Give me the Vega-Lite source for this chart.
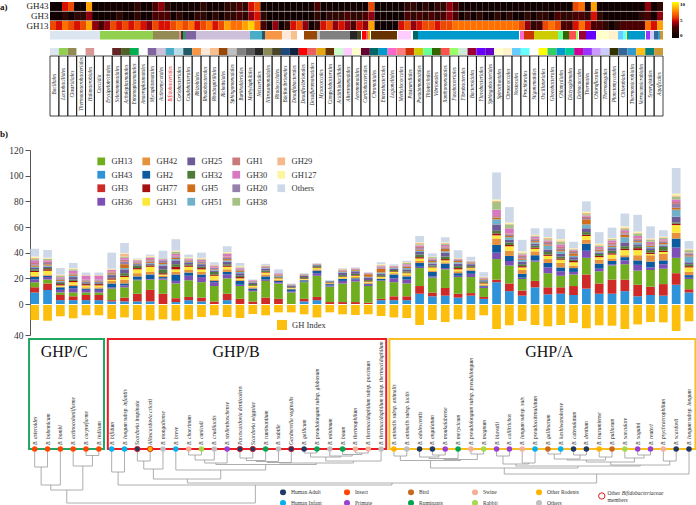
{"$schema":"https://vega.github.io/schema/vega-lite/v6.json","padding":0,"spacing":0,"bounds":"flush","background":"white",
"config":{"font":"Liberation Serif","view":{"stroke":null},"legend":{"labelFont":"Liberation Serif","titleFont":"Liberation Serif"},"axis":{"labelFont":"Liberation Serif"}},
"resolve":{"scale":{"color":"independent","x":"independent","y":"independent"},"legend":{"color":"independent"}},
"vconcat":[
{"width":696,"height":150,
"resolve":{"scale":{"x":"independent","y":"independent","color":"independent"},"legend":{"color":"independent"}},
"layer":[
{"data":{"values":[
{"c":0,"GH43":1,"GH3":1,"GH13":6},{"c":1,"GH43":0,"GH3":1,"GH13":5},{"c":2,"GH43":5,"GH3":2,"GH13":7},{"c":3,"GH43":6,"GH3":1,"GH13":6},{"c":4,"GH43":0,"GH3":2,"GH13":5},{"c":5,"GH43":0,"GH3":2,"GH13":6},{"c":6,"GH43":8,"GH3":4,"GH13":8},{"c":7,"GH43":0,"GH3":1,"GH13":4},{"c":8,"GH43":0,"GH3":0,"GH13":3},{"c":9,"GH43":1,"GH3":1,"GH13":4},
{"c":10,"GH43":1,"GH3":1,"GH13":6},{"c":11,"GH43":1,"GH3":2,"GH13":5},{"c":12,"GH43":0,"GH3":1,"GH13":6},{"c":13,"GH43":1,"GH3":1,"GH13":5},{"c":14,"GH43":2,"GH3":2,"GH13":6},{"c":15,"GH43":1,"GH3":1,"GH13":5},{"c":16,"GH43":1,"GH3":1,"GH13":4},{"c":17,"GH43":3,"GH3":3,"GH13":6},{"c":18,"GH43":4,"GH3":3,"GH13":5},{"c":19,"GH43":2,"GH3":3,"GH13":5},
{"c":20,"GH43":1,"GH3":1,"GH13":6},{"c":21,"GH43":1,"GH3":2,"GH13":7},{"c":22,"GH43":0,"GH3":1,"GH13":6},{"c":23,"GH43":1,"GH3":1,"GH13":7},{"c":24,"GH43":1,"GH3":2,"GH13":5},{"c":25,"GH43":2,"GH3":2,"GH13":6},{"c":26,"GH43":1,"GH3":1,"GH13":7},{"c":27,"GH43":1,"GH3":2,"GH13":5},{"c":28,"GH43":1,"GH3":1,"GH13":6},{"c":29,"GH43":2,"GH3":2,"GH13":8},
{"c":30,"GH43":2,"GH3":2,"GH13":7},{"c":31,"GH43":3,"GH3":3,"GH13":7},{"c":32,"GH43":2,"GH3":2,"GH13":8},{"c":33,"GH43":5,"GH3":4,"GH13":9},{"c":34,"GH43":6,"GH3":5,"GH13":7},{"c":35,"GH43":1,"GH3":2,"GH13":3},{"c":36,"GH43":0,"GH3":0,"GH13":1},{"c":37,"GH43":0,"GH3":1,"GH13":4},{"c":38,"GH43":0,"GH3":0,"GH13":1},{"c":39,"GH43":0,"GH3":1,"GH13":2},
{"c":40,"GH43":0,"GH3":0,"GH13":5},{"c":41,"GH43":0,"GH3":1,"GH13":6},{"c":42,"GH43":0,"GH3":0,"GH13":4},{"c":43,"GH43":0,"GH3":1,"GH13":1},{"c":44,"GH43":3,"GH3":2,"GH13":2},{"c":45,"GH43":0,"GH3":1,"GH13":5},{"c":46,"GH43":1,"GH3":2,"GH13":6},{"c":47,"GH43":0,"GH3":2,"GH13":4},{"c":48,"GH43":0,"GH3":2,"GH13":5},{"c":49,"GH43":1,"GH3":3,"GH13":4},
{"c":50,"GH43":1,"GH3":2,"GH13":3},{"c":51,"GH43":0,"GH3":2,"GH13":5},{"c":52,"GH43":1,"GH3":3,"GH13":4},{"c":53,"GH43":6,"GH3":4,"GH13":8},{"c":54,"GH43":0,"GH3":0,"GH13":1},{"c":55,"GH43":0,"GH3":1,"GH13":0},{"c":56,"GH43":0,"GH3":0,"GH13":0},{"c":57,"GH43":0,"GH3":0,"GH13":1},{"c":58,"GH43":1,"GH3":1,"GH13":5},{"c":59,"GH43":2,"GH3":3,"GH13":6},
{"c":60,"GH43":2,"GH3":2,"GH13":4},{"c":61,"GH43":1,"GH3":3,"GH13":5},{"c":62,"GH43":2,"GH3":2,"GH13":6},{"c":63,"GH43":1,"GH3":3,"GH13":6},{"c":64,"GH43":2,"GH3":2,"GH13":5},{"c":65,"GH43":2,"GH3":3,"GH13":6},{"c":66,"GH43":4,"GH3":4,"GH13":6},{"c":67,"GH43":3,"GH3":3,"GH13":7},{"c":68,"GH43":1,"GH3":1,"GH13":7},{"c":69,"GH43":0,"GH3":2,"GH13":7},
{"c":70,"GH43":1,"GH3":1,"GH13":7},{"c":71,"GH43":0,"GH3":2,"GH13":7},{"c":72,"GH43":1,"GH3":1,"GH13":7},{"c":73,"GH43":0,"GH3":1,"GH13":7},{"c":74,"GH43":1,"GH3":2,"GH13":7},{"c":75,"GH43":0,"GH3":1,"GH13":7},{"c":76,"GH43":0,"GH3":2,"GH13":7},{"c":77,"GH43":1,"GH3":1,"GH13":7},{"c":78,"GH43":1,"GH3":1,"GH13":6},{"c":79,"GH43":1,"GH3":2,"GH13":4},
{"c":80,"GH43":0,"GH3":1,"GH13":2},{"c":81,"GH43":0,"GH3":2,"GH13":3},{"c":82,"GH43":1,"GH3":2,"GH13":6},{"c":83,"GH43":0,"GH3":1,"GH13":7},{"c":84,"GH43":1,"GH3":3,"GH13":6},{"c":85,"GH43":1,"GH3":2,"GH13":3},{"c":86,"GH43":0,"GH3":2,"GH13":3},{"c":87,"GH43":6,"GH3":3,"GH13":5},{"c":88,"GH43":7,"GH3":3,"GH13":7},{"c":89,"GH43":1,"GH3":2,"GH13":5},
{"c":90,"GH43":8,"GH3":5,"GH13":3},{"c":91,"GH43":0,"GH3":2,"GH13":3},{"c":92,"GH43":0,"GH3":1,"GH13":2},{"c":93,"GH43":0,"GH3":1,"GH13":1},{"c":94,"GH43":0,"GH3":1,"GH13":2},{"c":95,"GH43":0,"GH3":1,"GH13":3},{"c":96,"GH43":0,"GH3":1,"GH13":3},{"c":97,"GH43":1,"GH3":1,"GH13":3},{"c":98,"GH43":1,"GH3":2,"GH13":3},{"c":99,"GH43":4,"GH3":3,"GH13":7},{"c":100,"GH43":1,"GH3":1,"GH13":5},{"c":101,"GH43":2,"GH3":4,"GH13":8}
]},
"transform":[{"fold":["GH43","GH3","GH13"],"as":["family","count"]}],
"mark":{"type":"rect"},
"encoding":{
"x":{"field":"c","type":"ordinal","axis":null,"scale":{"range":[50,663],"paddingInner":0,"paddingOuter":0}},
"y":{"field":"family","type":"nominal","title":null,"sort":["GH43","GH3","GH13"],"scale":{"domain":["GH43","GH3","GH13"],"range":[2,30],"paddingInner":0.06,"paddingOuter":0},"axis":{"offset":-49,"domain":false,"ticks":false,"labelPadding":1,"labelFontSize":9,"labelColor":"#222"}},
"color":{"field":"count","type":"quantitative","scale":{"domain":[0,1,3,5,7,10],"range":["#000000","#120000","#4a0000","#d81000","#ff7000","#ffff00"]},"legend":{"orient":"none","legendX":672,"legendY":2,"title":null,"gradientLength":36,"gradientThickness":7,"values":[0,5,10],"labelFontSize":5,"labelFontWeight":"bold","labelOffset":1,"gradientStrokeWidth":0}}
}},
{"resolve":{"scale":{"x":"independent","y":"independent"}},
"layer":[
{"data":{"values":[{"order":"Bacillales","start":0,"end":50},{"order":"Lactobacillales","start":50,"end":103},{"order":"Clostridiales","start":103,"end":129},{"order":"Halanaerobiales","start":129,"end":131},{"order":"Selenomonadales","start":131,"end":133},{"order":"Entomoplasmatales","start":133,"end":135},{"order":"Mycoplasmatales","start":135,"end":146},{"order":"Actinomycetales","start":146,"end":200},{"order":"Bifidobacteriales","start":200,"end":212},{"order":"Caulobacterales","start":212,"end":215},{"order":"Rhizobiales","start":215,"end":232},{"order":"Rhodobacterales","start":232,"end":241},{"order":"Rhodospirillales","start":241,"end":247},{"order":"Rickettsiales","start":254,"end":267},{"order":"Sphingomonadales","start":267,"end":270},{"order":"Burkholderiales","start":270,"end":300},{"order":"Neisseriales","start":300,"end":307},{"order":"Rhodocyclales","start":307,"end":311},{"order":"Desulfovibrionales","start":312,"end":316},{"order":"Desulfuromonadales","start":316,"end":318},{"order":"Myxococcales","start":318,"end":320},{"order":"Campylobacterales","start":321,"end":347},{"order":"Alteromonadales","start":348,"end":361},{"order":"Chromatiales","start":363,"end":368},{"order":"Enterobacteriales","start":368,"end":469},{"order":"Legionellales","start":470,"end":474},{"order":"Pasteurellales","start":474,"end":484},{"order":"Pseudomonadales","start":484,"end":508},{"order":"Thiotrichales","start":508,"end":513},{"order":"Vibrionales","start":513,"end":519},{"order":"Xanthomonadales","start":519,"end":526},{"order":"Fusobacteriales","start":526,"end":528},{"order":"Bacteroidales","start":529,"end":536},{"order":"Flavobacteriales","start":536,"end":546},{"order":"Spirochaetales","start":546,"end":559},{"order":"Chroococcales","start":559,"end":568},{"order":"Nostocales","start":568,"end":573},{"order":"Prochlorales","start":573,"end":576},{"order":"Oscillatoriales","start":576,"end":577},{"order":"Chlamydiales","start":577,"end":595},{"order":"Thermales","start":596,"end":600},{"order":"Thermotogales","start":600,"end":604},{"order":"Chlorobiales","start":604,"end":608},{"order":"Thermomicrobiales","start":608,"end":610},{"order":"Aquificales","start":610,"end":613}]},
"mark":"rect","encoding":{"x":{"field":"start","type":"quantitative","axis":null,"scale":{"domain":[0,613],"range":[50,663]}},"x2":{"field":"end"},"y":{"datum":31,"type":"quantitative","axis":null,"scale":{"domain":[0,150],"range":[0,150]}},"y2":{"datum":39.5},"color":{"field":"order","type":"nominal","legend":null}}},
{"data":{"values":[{"order":"Bacillales"},{"order":"Lactobacillales"},{"order":"Clostridiales"},{"order":"Thermoanaerobacteriales"},{"order":"Halanaerobiales"},{"order":"Coccidia"},{"order":"Erysipelotrichales"},{"order":"Selenomonadales"},{"order":"Acholeplasmatales"},{"order":"Entomoplasmatales"},{"order":"Anaeroplasmatales"},{"order":"Mycoplasmatales"},{"order":"Actinomycetales"},{"order":"Bifidobacteriales"},{"order":"Coriobacteriales"},{"order":"Caulobacterales"},{"order":"Rhizobiales"},{"order":"Rhodobacterales"},{"order":"Rhodospirillales"},{"order":"Rickettsiales"},{"order":"Sphingomonadales"},{"order":"Burkholderiales"},{"order":"Methylophilales"},{"order":"Neisseriales"},{"order":"Nitrosomonadales"},{"order":"Rhodocyclales"},{"order":"Bdellovibrionales"},{"order":"Desulfobacterales"},{"order":"Desulfovibrionales"},{"order":"Desulfuromonadales"},{"order":"Myxococcales"},{"order":"Campylobacterales"},{"order":"Acidithiobacillales"},{"order":"Alteromonadales"},{"order":"Aeromonadales"},{"order":"Cardiobacteriales"},{"order":"Chromatiales"},{"order":"Enterobacteriales"},{"order":"Legionellales"},{"order":"Methylococcales"},{"order":"Pasteurellales"},{"order":"Pseudomonadales"},{"order":"Thiotrichales"},{"order":"Vibrionales"},{"order":"Xanthomonadales"},{"order":"Fusobacteriales"},{"order":"Fibrobacterales"},{"order":"Bacteroidales"},{"order":"Flavobacteriales"},{"order":"Sphingobacteriales"},{"order":"Spirochaetales"},{"order":"Chroococcales"},{"order":"Nostocales"},{"order":"Prochlorales"},{"order":"Stigonematales"},{"order":"Oscillatoriales"},{"order":"Gloeobacterales"},{"order":"Chlamydiales"},{"order":"Dictyoglomales"},{"order":"Deinococcales"},{"order":"Thermales"},{"order":"Chloroflexales"},{"order":"Thermotogales"},{"order":"Planctomycetales"},{"order":"Chlorobiales"},{"order":"Thermomicrobiales"},{"order":"Verrucomicrobiales"},{"order":"Synergistales"},{"order":"Aquificales"}]},
"layer":[
{"mark":"rect","encoding":{"x":{"field":"order","type":"nominal","sort":null,"axis":null,"scale":{"range":[50,663],"paddingInner":0,"paddingOuter":0}},"y":{"datum":48,"type":"quantitative","axis":null,"scale":{"domain":[0,150],"range":[0,150]}},"y2":{"datum":55},
"color":{"field":"order","type":"nominal","legend":null,"scale":{"domain":["Bacillales","Lactobacillales","Clostridiales","Thermoanaerobacteriales","Halanaerobiales","Coccidia","Erysipelotrichales","Selenomonadales","Acholeplasmatales","Entomoplasmatales","Anaeroplasmatales","Mycoplasmatales","Actinomycetales","Bifidobacteriales","Coriobacteriales","Caulobacterales","Rhizobiales","Rhodobacterales","Rhodospirillales","Rickettsiales","Sphingomonadales","Burkholderiales","Methylophilales","Neisseriales","Nitrosomonadales","Rhodocyclales","Bdellovibrionales","Desulfobacterales","Desulfovibrionales","Desulfuromonadales","Myxococcales","Campylobacterales","Acidithiobacillales","Alteromonadales","Aeromonadales","Cardiobacteriales","Chromatiales","Enterobacteriales","Legionellales","Methylococcales","Pasteurellales","Pseudomonadales","Thiotrichales","Vibrionales","Xanthomonadales","Fusobacteriales","Fibrobacterales","Bacteroidales","Flavobacteriales","Sphingobacteriales","Spirochaetales","Chroococcales","Nostocales","Prochlorales","Stigonematales","Oscillatoriales","Gloeobacterales","Chlamydiales","Dictyoglomales","Deinococcales","Thermales","Chloroflexales","Thermotogales","Planctomycetales","Chlorobiales","Thermomicrobiales","Verrucomicrobiales","Synergistales","Aquificales"],
"range":["#dce6f1","#92d050","#948a54","#ffffff","#da9694","#ffffff","#ffffff","#632523","#4f6228","#00b050","#ffffff","#8064a2","#ccc0da","#4bacc6","#b7dee8","#215967","#f79646","#fde9d9","#fabf8f","#974706","#bfbfbf","#808080","#595959","#262626","#8e8a55","#494529","#1f497d","#0f243e","#ff0000","#e96060","#e6a80c","#663300","#ccffcc","#ffccff","#ffffcc","#660033","#006666","#0099cc","#ff66cc","#ff7c80","#cc3300","#cccc00","#66ff99","#336600","#ff5050","#99ff66","#ccecda","#990033","#6600ff","#6600cc","#ffffcc","#fff2cc","#66ccff","#66ffff","#ffffff","#ffff00","#33cc66","#0099cc","#00cc99","#cc0099","#9933ff","#cc99ff","#ccccff","#333300","#336699","#3399cc","#ffc013","#008080","#cc9933"]}}}},
{"mark":{"type":"rect","fill":null,"fillOpacity":0,"stroke":"#111","strokeWidth":0.8},"encoding":{"x":{"field":"order","type":"nominal","sort":null,"axis":null,"scale":{"range":[50,663],"paddingInner":0,"paddingOuter":0}},"y":{"datum":56,"type":"quantitative","axis":null,"scale":{"domain":[0,150],"range":[0,150]}},"y2":{"datum":116}}},
{"mark":{"type":"text","angle":-90,"fontStyle":"italic","fontSize":5.2,"align":"center","baseline":"middle"},"encoding":{"x":{"field":"order","type":"nominal","sort":null,"axis":null,"scale":{"range":[50,663],"paddingInner":0,"paddingOuter":0}},"y":{"datum":84,"type":"quantitative","axis":null,"scale":{"domain":[0,150],"range":[0,150]}},"text":{"field":"order"},"color":{"condition":{"test":"datum.order==='Bifidobacteriales'","value":"#e31a1c"},"value":"#222"}}}
]}
]},
{"mark":{"type":"rule","stroke":"#4bacc6","strokeWidth":1},"encoding":{"x":{"datum":206,"type":"quantitative","axis":null,"scale":{"domain":[0,613],"range":[50,663]}},"y":{"datum":40.5,"type":"quantitative","axis":null,"scale":{"domain":[0,150],"range":[0,150]}},"y2":{"datum":44}}},
{"mark":{"type":"rule","stroke":"#4bacc6","strokeWidth":1},"encoding":{"x":{"datum":120,"type":"quantitative","axis":null,"scale":{"domain":[0,613],"range":[50,663]}},"x2":{"datum":206},"y":{"datum":44,"type":"quantitative","axis":null,"scale":{"domain":[0,150],"range":[0,150]}}}},
{"mark":{"type":"rule","stroke":"#4bacc6","strokeWidth":1},"encoding":{"x":{"datum":120,"type":"quantitative","axis":null,"scale":{"domain":[0,613],"range":[50,663]}},"y":{"datum":44,"type":"quantitative","axis":null,"scale":{"domain":[0,150],"range":[0,150]}},"y2":{"datum":48}}},
{"mark":{"type":"rect","fill":"#4bacc6","fillOpacity":0.22,"stroke":"#2f86d2","strokeWidth":1.5},"encoding":{"x":{"datum":200,"type":"quantitative","axis":null,"scale":{"domain":[0,613],"range":[50,663]}},"x2":{"datum":212},"y":{"datum":1,"type":"quantitative","axis":null,"scale":{"domain":[0,150],"range":[0,150]}},"y2":{"datum":41}}},
{"data":{"values":[{"label":"a)","pos":-50,"line":6.5},{"label":"b)","pos":-50,"line":134}]},"mark":{"type":"text","align":"left","baseline":"middle","fontWeight":"bold","fontSize":9},"encoding":{"x":{"field":"pos","type":"quantitative","axis":null,"scale":{"domain":[0,613],"range":[50,663]}},"y":{"field":"line","type":"quantitative","axis":null,"scale":{"domain":[0,150],"range":[0,150]}},"text":{"field":"label"},"color":{"value":"#111"}}}
]},
{"width":696,"height":154,
"data":{"values":[
{"i":0,"GH43":9,"GH3":4,"GH13":4,"GH36":2,"GH2":2,"GH42":1,"GH31":3,"GH77":1,"GH32":1,"GH25":1,"GH51":1,"GH5":1,"GH20":1,"GH1":1,"GH30":2,"GH38":1,"GH29":1,"GH127":1,"Others":6},
{"i":1,"GH43":11,"GH3":5,"GH13":3,"GH36":2,"GH2":1,"GH42":1,"GH31":3,"GH77":1,"GH32":1,"GH25":1,"GH51":1,"GH5":1,"GH20":1,"GH1":1,"GH30":1,"GH38":1,"GH29":0.5,"GH127":0.5,"Others":6},
{"i":2,"GH43":3,"GH3":4,"GH13":2,"GH36":2,"GH2":2,"GH42":0.5,"GH31":1,"GH77":1,"GH32":1,"GH25":1,"GH51":0.5,"GH5":1,"GH20":1,"GH1":0.5,"GH30":0.5,"GH38":1,"GH29":0.5,"GH127":0.5,"Others":5},
{"i":3,"GH43":3,"GH3":3,"GH13":3,"GH36":3,"GH2":2,"GH42":1,"GH31":2,"GH77":1,"GH32":1,"GH25":2,"GH51":1,"GH5":1,"GH20":0.5,"GH1":0.5,"GH30":2,"GH38":1,"GH29":0.5,"GH127":0.5,"Others":4},
{"i":4,"GH43":3,"GH3":4,"GH13":2,"GH36":2,"GH2":1,"GH42":1,"GH31":1.5,"GH77":1,"GH32":0.5,"GH25":1,"GH51":0.5,"GH5":0.5,"GH20":0.5,"GH1":0.5,"GH30":3,"GH38":0,"GH29":0.5,"GH127":0,"Others":2},
{"i":5,"GH43":3,"GH3":4,"GH13":2,"GH36":2,"GH2":1,"GH42":1,"GH31":1.5,"GH77":1,"GH32":0.5,"GH25":1,"GH51":0.5,"GH5":0.5,"GH20":0.5,"GH1":0.5,"GH30":3,"GH38":0,"GH29":0.5,"GH127":0,"Others":2},
{"i":6,"GH43":2,"GH3":1,"GH13":9,"GH36":1,"GH2":3,"GH42":2,"GH31":1,"GH77":1,"GH32":0.5,"GH25":2,"GH51":0.5,"GH5":1,"GH20":0.5,"GH1":1,"GH30":1,"GH38":0,"GH29":0.5,"GH127":0.5,"Others":12.5},
{"i":7,"GH43":2,"GH3":3,"GH13":8,"GH36":1.5,"GH2":1.5,"GH42":3,"GH31":2,"GH77":1,"GH32":2,"GH25":3,"GH51":1,"GH5":3,"GH20":2,"GH1":1.5,"GH30":1.5,"GH38":1,"GH29":2,"GH127":0.5,"Others":8},
{"i":8,"GH43":2,"GH3":6,"GH13":10.5,"GH36":0.5,"GH2":2.5,"GH42":2.5,"GH31":3,"GH77":1,"GH32":2,"GH25":1,"GH51":0.5,"GH5":0.5,"GH20":0.5,"GH1":0.5,"GH30":1,"GH38":0.5,"GH29":0,"GH127":0.5,"Others":0.5},
{"i":9,"GH43":2,"GH3":9,"GH13":8,"GH36":0.5,"GH2":3.5,"GH42":2,"GH31":4,"GH77":1,"GH32":0.5,"GH25":1,"GH51":0.5,"GH5":1,"GH20":1,"GH1":1,"GH30":1,"GH38":0.5,"GH29":0.5,"GH127":0.5,"Others":1},
{"i":10,"GH43":0,"GH3":8,"GH13":11,"GH36":1,"GH2":1,"GH42":1,"GH31":1,"GH77":1,"GH32":3,"GH25":3,"GH51":1,"GH5":1,"GH20":2,"GH1":0.5,"GH30":0.5,"GH38":0.5,"GH29":0,"GH127":0,"Others":6},
{"i":11,"GH43":1.5,"GH3":3,"GH13":11.5,"GH36":2,"GH2":5,"GH42":2,"GH31":2,"GH77":2,"GH32":2,"GH25":3,"GH51":1,"GH5":1,"GH20":1,"GH1":0.5,"GH30":1.5,"GH38":1.5,"GH29":0.5,"GH127":0.5,"Others":9},
{"i":12,"GH43":3,"GH3":2.5,"GH13":13,"GH36":3.5,"GH2":2.5,"GH42":2,"GH31":2.5,"GH77":1,"GH32":1,"GH25":1.5,"GH51":0.5,"GH5":0.5,"GH20":0.5,"GH1":0.5,"GH30":0.5,"GH38":0.5,"GH29":0.5,"GH127":0.5,"Others":2},
{"i":13,"GH43":2,"GH3":3,"GH13":12,"GH36":4,"GH2":2,"GH42":2,"GH31":2,"GH77":1,"GH32":1,"GH25":2,"GH51":0.5,"GH5":0.5,"GH20":1,"GH1":0.5,"GH30":1,"GH38":0.5,"GH29":0.5,"GH127":0.5,"Others":4},
{"i":14,"GH43":0,"GH3":2,"GH13":12,"GH36":3,"GH2":1,"GH42":1,"GH31":3,"GH77":1,"GH32":2,"GH25":1,"GH51":0.5,"GH5":0.5,"GH20":1,"GH1":0.5,"GH30":1,"GH38":0.5,"GH29":0.5,"GH127":0,"Others":2},
{"i":15,"GH43":3,"GH3":5,"GH13":12,"GH36":3,"GH2":2,"GH42":2,"GH31":2,"GH77":1,"GH32":1,"GH25":2,"GH51":1,"GH5":1,"GH20":1,"GH1":1,"GH30":2,"GH38":0.5,"GH29":0.5,"GH127":0.5,"Others":4.5},
{"i":16,"GH43":0,"GH3":4,"GH13":10,"GH36":1,"GH2":3,"GH42":1,"GH31":1,"GH77":1,"GH32":1,"GH25":2,"GH51":1,"GH5":1,"GH20":1,"GH1":0.5,"GH30":0.5,"GH38":0.5,"GH29":0.5,"GH127":0.5,"Others":2.5},
{"i":17,"GH43":0,"GH3":2,"GH13":8,"GH36":1,"GH2":1,"GH42":1,"GH31":1,"GH77":0.5,"GH32":1,"GH25":1,"GH51":0.5,"GH5":0.5,"GH20":0.5,"GH1":0,"GH30":0.5,"GH38":0,"GH29":0,"GH127":0,"Others":0.5},
{"i":18,"GH43":0,"GH3":5,"GH13":13,"GH36":1,"GH2":2.5,"GH42":1.5,"GH31":1.5,"GH77":0.5,"GH32":1,"GH25":1.5,"GH51":0.5,"GH5":0.5,"GH20":0.5,"GH1":0.3,"GH30":0.3,"GH38":0.3,"GH29":0.2,"GH127":0.2,"Others":1},
{"i":19,"GH43":0,"GH3":4,"GH13":12,"GH36":1,"GH2":1,"GH42":1,"GH31":1,"GH77":0.5,"GH32":0.5,"GH25":0.5,"GH51":0.5,"GH5":0.5,"GH20":0.5,"GH1":0.5,"GH30":0.5,"GH38":0,"GH29":0,"GH127":0,"Others":3},
{"i":20,"GH43":0,"GH3":0,"GH13":9,"GH36":1,"GH2":1.5,"GH42":0.5,"GH31":0.5,"GH77":0.3,"GH32":0.5,"GH25":1,"GH51":0.3,"GH5":0.3,"GH20":0.3,"GH1":0.2,"GH30":0,"GH38":0,"GH29":0,"GH127":0,"Others":0.5},
{"i":21,"GH43":2,"GH3":2,"GH13":13,"GH36":0.5,"GH2":1,"GH42":0.5,"GH31":0.5,"GH77":0.5,"GH32":1,"GH25":1,"GH51":0.3,"GH5":0.3,"GH20":0.3,"GH1":0.2,"GH30":0.2,"GH38":0.2,"GH29":0,"GH127":0,"Others":0.4},
{"i":22,"GH43":3,"GH3":2.5,"GH13":16.5,"GH36":2,"GH2":2,"GH42":1,"GH31":1,"GH77":0.5,"GH32":1,"GH25":0.7,"GH51":0.3,"GH5":0.2,"GH20":0.2,"GH1":0.2,"GH30":0.2,"GH38":0,"GH29":0,"GH127":0,"Others":0.5},
{"i":23,"GH43":0,"GH3":1.5,"GH13":12,"GH36":1,"GH2":1,"GH42":0.7,"GH31":0.3,"GH77":0.3,"GH32":0.5,"GH25":0.5,"GH51":0.3,"GH5":0,"GH20":0,"GH1":0,"GH30":0,"GH38":0,"GH29":0,"GH127":0,"Others":0.5},
{"i":24,"GH43":0,"GH3":1.5,"GH13":14.5,"GH36":2,"GH2":1.5,"GH42":0.5,"GH31":1,"GH77":0.5,"GH32":1,"GH25":2,"GH51":0.5,"GH5":0.5,"GH20":0.5,"GH1":0.3,"GH30":0.3,"GH38":0.3,"GH29":0.3,"GH127":0.2,"Others":0.5},
{"i":25,"GH43":0,"GH3":1.5,"GH13":16,"GH36":1.5,"GH2":1,"GH42":1,"GH31":1,"GH77":0.5,"GH32":1,"GH25":2,"GH51":0.5,"GH5":0.5,"GH20":0.5,"GH1":0.3,"GH30":0.3,"GH38":0.2,"GH29":0.2,"GH127":0,"Others":0.5},
{"i":26,"GH43":0,"GH3":1,"GH13":13,"GH36":1,"GH2":0.7,"GH42":1,"GH31":0.8,"GH77":0.5,"GH32":0.7,"GH25":2,"GH51":0.5,"GH5":2,"GH20":0.5,"GH1":0.3,"GH30":0.3,"GH38":0,"GH29":0,"GH127":0,"Others":0.5},
{"i":27,"GH43":3,"GH3":1,"GH13":14,"GH36":0.5,"GH2":1,"GH42":0.5,"GH31":1,"GH77":0.5,"GH32":1,"GH25":1,"GH51":1,"GH5":3,"GH20":1,"GH1":0.5,"GH30":0.5,"GH38":0.5,"GH29":0.5,"GH127":0.5,"Others":1.5},
{"i":28,"GH43":3,"GH3":3,"GH13":11,"GH36":3,"GH2":3,"GH42":1,"GH31":1,"GH77":0.5,"GH32":1,"GH25":1,"GH51":0.5,"GH5":0.5,"GH20":0.5,"GH1":0.3,"GH30":0.3,"GH38":0.3,"GH29":0,"GH127":0,"Others":1},
{"i":29,"GH43":3,"GH3":3,"GH13":10,"GH36":3,"GH2":2.5,"GH42":1,"GH31":1.5,"GH77":0.5,"GH32":1,"GH25":1.5,"GH51":1,"GH5":1,"GH20":0.5,"GH1":0.5,"GH30":1,"GH38":1,"GH29":0.5,"GH127":0.2,"Others":1},
{"i":30,"GH43":8,"GH3":6,"GH13":14,"GH36":1,"GH2":3,"GH42":1.5,"GH31":2,"GH77":1,"GH32":2,"GH25":2,"GH51":1,"GH5":1,"GH20":1,"GH1":1,"GH30":1,"GH38":1,"GH29":1,"GH127":0.5,"Others":5},
{"i":31,"GH43":6,"GH3":3,"GH13":11.5,"GH36":1,"GH2":3.5,"GH42":1,"GH31":2.5,"GH77":0.5,"GH32":1,"GH25":1.5,"GH51":1,"GH5":1,"GH20":1,"GH1":0.5,"GH30":0.5,"GH38":1,"GH29":0.3,"GH127":0.2,"Others":2.5},
{"i":32,"GH43":6.5,"GH3":6,"GH13":14.5,"GH36":1,"GH2":3.5,"GH42":1,"GH31":1.5,"GH77":1,"GH32":2,"GH25":3,"GH51":1,"GH5":2,"GH20":1,"GH1":1,"GH30":1,"GH38":1,"GH29":0.5,"GH127":0.5,"Others":4},
{"i":33,"GH43":5,"GH3":3,"GH13":13,"GH36":1,"GH2":2,"GH42":1.5,"GH31":1.5,"GH77":1,"GH32":1.5,"GH25":2,"GH51":1,"GH5":1,"GH20":0.7,"GH1":0.5,"GH30":0.3,"GH38":0.3,"GH29":0.3,"GH127":0.3,"Others":6},
{"i":34,"GH43":6.5,"GH3":2,"GH13":12.5,"GH36":2.5,"GH2":2.5,"GH42":1,"GH31":1,"GH77":0.5,"GH32":1,"GH25":1.5,"GH51":0.5,"GH5":0.5,"GH20":0.5,"GH1":0.3,"GH30":0.3,"GH38":0.3,"GH29":0.2,"GH127":0.2,"Others":3},
{"i":35,"GH43":4,"GH3":1.5,"GH13":7,"GH36":1,"GH2":0.7,"GH42":1,"GH31":0.8,"GH77":0.5,"GH32":1,"GH25":1,"GH51":0.5,"GH5":0.5,"GH20":0.3,"GH1":0.3,"GH30":0.3,"GH38":0.3,"GH29":0.3,"GH127":0.3,"Others":3.5},
{"i":36,"GH43":17,"GH3":2,"GH13":16,"GH36":5,"GH2":6,"GH42":5,"GH31":2.5,"GH77":1.5,"GH32":2,"GH25":5,"GH51":4,"GH5":1,"GH20":0.5,"GH1":1,"GH30":5,"GH38":6,"GH29":1,"GH127":1,"Others":21},
{"i":37,"GH43":10,"GH3":6,"GH13":14,"GH36":3.5,"GH2":4,"GH42":4,"GH31":3.5,"GH77":1,"GH32":2,"GH25":2,"GH51":2,"GH5":1,"GH20":1,"GH1":1,"GH30":4,"GH38":3,"GH29":0.5,"GH127":1,"Others":12},
{"i":38,"GH43":6.5,"GH3":4,"GH13":9,"GH36":1,"GH2":3,"GH42":3,"GH31":2,"GH77":1,"GH32":1.5,"GH25":2,"GH51":1.5,"GH5":1,"GH20":1,"GH1":1,"GH30":1,"GH38":1,"GH29":0.5,"GH127":1,"Others":9},
{"i":39,"GH43":13,"GH3":5,"GH13":15,"GH36":1,"GH2":4,"GH42":3,"GH31":2,"GH77":1,"GH32":1.5,"GH25":1.5,"GH51":1,"GH5":1,"GH20":1,"GH1":1,"GH30":1.5,"GH38":0.5,"GH29":0.5,"GH127":0.5,"Others":5},
{"i":40,"GH43":7.5,"GH3":5.5,"GH13":11,"GH36":4.5,"GH2":3.5,"GH42":3,"GH31":2.5,"GH77":1,"GH32":2,"GH25":2,"GH51":3,"GH5":1,"GH20":1,"GH1":1,"GH30":1,"GH38":1,"GH29":1,"GH127":0.5,"Others":7},
{"i":41,"GH43":8,"GH3":5,"GH13":9,"GH36":3.5,"GH2":3,"GH42":3.5,"GH31":2.5,"GH77":1,"GH32":1.5,"GH25":2,"GH51":2,"GH5":1,"GH20":1,"GH1":1.5,"GH30":2,"GH38":2,"GH29":1,"GH127":1,"Others":8},
{"i":42,"GH43":7,"GH3":7,"GH13":9,"GH36":2,"GH2":3,"GH42":2,"GH31":2.5,"GH77":1,"GH32":1,"GH25":2,"GH51":1,"GH5":2,"GH20":1,"GH1":1,"GH30":0.5,"GH38":0.5,"GH29":0.5,"GH127":0.5,"Others":5},
{"i":43,"GH43":12,"GH3":11,"GH13":13,"GH36":5.5,"GH2":5.5,"GH42":3,"GH31":3,"GH77":1,"GH32":2,"GH25":3,"GH51":3,"GH5":4,"GH20":1,"GH1":1,"GH30":1,"GH38":1,"GH29":1,"GH127":1,"Others":8},
{"i":44,"GH43":8,"GH3":8,"GH13":9.5,"GH36":2,"GH2":4,"GH42":3,"GH31":2,"GH77":1,"GH32":1.5,"GH25":1,"GH51":1,"GH5":1,"GH20":0.5,"GH1":1,"GH30":1,"GH38":1,"GH29":0.5,"GH127":1,"Others":9},
{"i":45,"GH43":8,"GH3":11,"GH13":11,"GH36":1,"GH2":2.5,"GH42":2,"GH31":3,"GH77":1,"GH32":2,"GH25":2,"GH51":1,"GH5":1,"GH20":1,"GH1":1.5,"GH30":1.5,"GH38":1,"GH29":0.5,"GH127":0.5,"Others":8},
{"i":46,"GH43":10,"GH3":9,"GH13":12,"GH36":3,"GH2":2.5,"GH42":1.5,"GH31":4,"GH77":1,"GH32":2,"GH25":3,"GH51":4,"GH5":2,"GH20":1,"GH1":1,"GH30":1.5,"GH38":1,"GH29":1,"GH127":1,"Others":10},
{"i":47,"GH43":6,"GH3":9,"GH13":11,"GH36":4.5,"GH2":3.5,"GH42":4,"GH31":4,"GH77":1.5,"GH32":1.5,"GH25":1.5,"GH51":1.5,"GH5":1,"GH20":1,"GH1":1,"GH30":2,"GH38":2,"GH29":0.5,"GH127":1,"Others":13},
{"i":48,"GH43":7,"GH3":6.5,"GH13":13,"GH36":2,"GH2":4.5,"GH42":5,"GH31":1,"GH77":1,"GH32":2,"GH25":1.5,"GH51":1,"GH5":1,"GH20":1,"GH1":1,"GH30":1,"GH38":1.5,"GH29":0.5,"GH127":0.5,"Others":9.5},
{"i":49,"GH43":6.5,"GH3":9,"GH13":12,"GH36":3.5,"GH2":3,"GH42":5,"GH31":1.5,"GH77":1,"GH32":3,"GH25":1,"GH51":1,"GH5":1,"GH20":1,"GH1":1,"GH30":1,"GH38":1,"GH29":0.5,"GH127":0.5,"Others":5},
{"i":50,"GH43":15,"GH3":9,"GH13":12,"GH36":8,"GH2":7,"GH42":4.5,"GH31":6,"GH77":1,"GH32":1,"GH25":4.5,"GH51":5.5,"GH5":1.5,"GH20":3,"GH1":1.5,"GH30":2,"GH38":2,"GH29":1,"GH127":1.5,"Others":20},
{"i":51,"GH43":9,"GH3":2.5,"GH13":8,"GH36":1,"GH2":2,"GH42":2.5,"GH31":3.5,"GH77":1,"GH32":1.5,"GH25":1.5,"GH51":4.5,"GH5":1,"GH20":1,"GH1":0.5,"GH30":0.5,"GH38":2,"GH29":0.5,"GH127":0.5,"Others":6}
]},
"transform":[{"fold":["GH43","GH3","GH13","GH36","GH2","GH42","GH31","GH77","GH32","GH25","GH51","GH5","GH20","GH1","GH30","GH38","GH29","GH127","Others"],"as":["family","count"]},
{"lookup":"family","from":{"data":{"values":[{"family":"GH43","rank":1},{"family":"GH3","rank":2},{"family":"GH13","rank":3},{"family":"GH36","rank":4},{"family":"GH2","rank":5},{"family":"GH42","rank":6},{"family":"GH31","rank":7},{"family":"GH77","rank":8},{"family":"GH32","rank":9},{"family":"GH25","rank":10},{"family":"GH51","rank":11},{"family":"GH5","rank":12},{"family":"GH20","rank":13},{"family":"GH1","rank":14},{"family":"GH30","rank":15},{"family":"GH38","rank":16},{"family":"GH29","rank":17},{"family":"GH127","rank":18},{"family":"Others","rank":19}]},"key":"family","fields":["rank"]}}],
"mark":{"type":"bar"},
"encoding":{
"x":{"field":"i","type":"ordinal","axis":null,"scale":{"range":[28.3,695.4],"paddingInner":0.32,"paddingOuter":0.16}},
"y":{"field":"count","type":"quantitative","stack":"zero","title":null,"scale":{"domain":[0,120],"nice":false},"axis":{"offset":-30,"values":[0,20,40,60,80,100,120],"tickSize":5,"labelFontSize":9.5,"labelPadding":2,"grid":false,"domainColor":"#555","tickColor":"#555","labelColor":"#333"}},
"order":{"field":"rank","type":"quantitative"},
"color":{"field":"family","type":"nominal","scale":{"domain":["GH13","GH43","GH3","GH36","GH42","GH2","GH77","GH31","GH25","GH32","GH5","GH51","GH1","GH30","GH20","GH38","GH29","GH127","Others"],"range":["#70ad1f","#2f93d9","#cf2a27","#7e4fb5","#e6923c","#0c5aa0","#a50f0f","#fce83a","#6d5a97","#4e7a3a","#cf6f1d","#70b0c8","#c97b7b","#d878c0","#9680ab","#a6c184","#f5b98d","#fdf5a0","#cdd8e8"]},
"legend":{"orient":"none","legendX":97,"legendY":7,"title":null,"columns":5,"gridAlign":"all","symbolType":"square","symbolSize":60,"symbolStrokeWidth":0,"labelFontSize":8.5,"labelColor":"#333","labelOffset":6,"columnPadding":5,"rowPadding":4.5}}
}},
{"width":696,"height":31,
"data":{"values":[{"i":0,"v":19.4},{"i":1,"v":20.2},{"i":2,"v":14.6},{"i":3,"v":17.2},{"i":4,"v":13.3},{"i":5,"v":13.3},{"i":6,"v":18},{"i":7,"v":16},{"i":8,"v":19.4},{"i":9,"v":19.8},{"i":10,"v":18.5},{"i":11,"v":20.2},{"i":12,"v":18.5},{"i":13,"v":15.5},{"i":14,"v":13.3},{"i":15,"v":15.5},{"i":16,"v":16.8},{"i":17,"v":11.6},{"i":18,"v":13.3},{"i":19,"v":9.5},{"i":20,"v":9.5},{"i":21,"v":12},{"i":22,"v":16},{"i":23,"v":9.5},{"i":24,"v":12},{"i":25,"v":12.9},{"i":26,"v":12},{"i":27,"v":14.2},{"i":28,"v":16},{"i":29,"v":16.8},{"i":30,"v":25.8},{"i":31,"v":19.4},{"i":32,"v":22},{"i":33,"v":18.5},{"i":34,"v":19.4},{"i":35,"v":13.3},{"i":36,"v":31},{"i":37,"v":26.2},{"i":38,"v":20.6},{"i":39,"v":25.8},{"i":40,"v":27.5},{"i":41,"v":25.8},{"i":42,"v":23.2},{"i":43,"v":30},{"i":44,"v":26.2},{"i":45,"v":26.7},{"i":46,"v":31},{"i":47,"v":25},{"i":48,"v":22},{"i":49,"v":22.4},{"i":50,"v":33.5},{"i":51,"v":21}]},
"mark":{"type":"bar","yOffset":1},
"encoding":{
"x":{"field":"i","type":"ordinal","axis":null,"scale":{"range":[28.3,695.4],"paddingInner":0.32,"paddingOuter":0.16}},
"y":{"field":"v","type":"quantitative","title":null,"scale":{"domain":[0,40],"reverse":true,"nice":false},"axis":{"offset":-30,"values":[40],"tickSize":5,"labelFontSize":9.5,"labelPadding":2,"grid":false,"domainColor":"#555","tickColor":"#555","labelColor":"#333"}},
"color":{"datum":"GH Index","scale":{"domain":["GH Index"],"range":["#fdbf0d"]},"legend":{"orient":"none","legendX":277,"legendY":16,"title":null,"symbolType":"square","symbolSize":100,"symbolStrokeWidth":0,"labelFontSize":8.5,"labelColor":"#333","labelOffset":5}}
}},
{"width":696,"height":170,
"resolve":{"scale":{"x":"shared","y":"shared"}},
"layer":[
{"data":{"values":[
{"x1":0,"x2":1,"d":18,"y1":0,"y2":0},{"x1":4,"x2":5,"d":6.5,"y1":0,"y2":0},{"x1":3,"x2":4.5,"d":17,"y1":0,"y2":6.5},{"x1":0.5,"x2":2,"d":36,"y1":18,"y2":0},{"x1":1.25,"x2":3.75,"d":41,"y1":36,"y2":17},{"x1":2.5,"x2":17.2,"d":54,"y1":41,"y2":36},
{"x1":6,"x2":7,"d":23,"y1":0,"y2":0},{"x1":6.5,"x2":27.85,"d":36,"y1":23,"y2":34},{"x1":11.9,"x2":43.8,"d":34,"y1":30,"y2":25},
{"x1":25,"x2":26,"d":4,"y1":0,"y2":0},{"x1":24,"x2":25.5,"d":5.5,"y1":0,"y2":4},{"x1":23,"x2":24.75,"d":7,"y1":0,"y2":5.5},{"x1":21,"x2":22,"d":4,"y1":0,"y2":0},{"x1":21.5,"x2":23.875,"d":8,"y1":4,"y2":7},{"x1":22.69,"x2":27,"d":12,"y1":8,"y2":0},
{"x1":16,"x2":17,"d":9,"y1":0,"y2":0},{"x1":16.5,"x2":18,"d":11.5,"y1":9,"y2":0},{"x1":17.25,"x2":19,"d":12.5,"y1":11.5,"y2":0},{"x1":18.12,"x2":20,"d":13.5,"y1":12.5,"y2":0},{"x1":19.06,"x2":24.84,"d":14,"y1":13.5,"y2":12},
{"x1":12,"x2":13,"d":6,"y1":0,"y2":0},{"x1":12.5,"x2":14,"d":11,"y1":6,"y2":0},{"x1":13.25,"x2":15,"d":14,"y1":11,"y2":0},{"x1":14.12,"x2":21.95,"d":15.5,"y1":14,"y2":14},{"x1":11,"x2":18,"d":21,"y1":0,"y2":15.5},
{"x1":8,"x2":9,"d":12,"y1":0,"y2":0},{"x1":8.5,"x2":10,"d":20,"y1":12,"y2":0},{"x1":9.25,"x2":14.5,"d":30,"y1":20,"y2":21},
{"x1":28,"x2":29,"d":7,"y1":0,"y2":0},{"x1":31,"x2":32,"d":6,"y1":0,"y2":0},{"x1":30,"x2":31.5,"d":8,"y1":0,"y2":6},{"x1":30.75,"x2":33,"d":9.5,"y1":8,"y2":0},{"x1":34,"x2":35,"d":5,"y1":0,"y2":0},{"x1":31.9,"x2":34.5,"d":10.5,"y1":9.5,"y2":5},{"x1":28.5,"x2":33.2,"d":11.5,"y1":7,"y2":10.5},
{"x1":36,"x2":37,"d":7,"y1":0,"y2":0},{"x1":38,"x2":39,"d":14,"y1":0,"y2":0},{"x1":36.5,"x2":38.5,"d":15,"y1":7,"y2":14},{"x1":40,"x2":41,"d":5,"y1":0,"y2":0},{"x1":42,"x2":43,"d":6,"y1":0,"y2":0},{"x1":40.5,"x2":42.5,"d":10,"y1":5,"y2":6},{"x1":44,"x2":45,"d":8,"y1":0,"y2":0},{"x1":41.5,"x2":44.5,"d":11,"y1":10,"y2":8},{"x1":47,"x2":48,"d":6,"y1":0,"y2":0},{"x1":46,"x2":47.5,"d":9,"y1":0,"y2":6},{"x1":43,"x2":46.75,"d":13,"y1":11,"y2":9},{"x1":49,"x2":50,"d":12,"y1":0,"y2":0},{"x1":44.9,"x2":49.5,"d":16,"y1":13,"y2":12},{"x1":37.5,"x2":47.2,"d":17,"y1":15,"y2":16},{"x1":30.85,"x2":42.35,"d":19,"y1":11.5,"y2":17},{"x1":36.6,"x2":51,"d":25,"y1":19,"y2":0}
]},
"layer":[
{"mark":{"type":"rule","stroke":"#999","strokeWidth":0.8},"encoding":{"x":{"field":"x1","type":"quantitative","axis":null,"scale":{"domain":[0,51],"range":[34.7,689]}},"x2":{"field":"x2"},"y":{"field":"d","type":"quantitative","axis":null,"scale":{"domain":[-114,56],"range":[0,170]}}}},
{"mark":{"type":"rule","stroke":"#999","strokeWidth":0.8},"encoding":{"x":{"field":"x1","type":"quantitative","axis":null,"scale":{"domain":[0,51],"range":[34.7,689]}},"y":{"field":"y1","type":"quantitative","axis":null,"scale":{"domain":[-114,56],"range":[0,170]}},"y2":{"field":"d"}}},
{"mark":{"type":"rule","stroke":"#999","strokeWidth":0.8},"encoding":{"x":{"field":"x2","type":"quantitative","axis":null,"scale":{"domain":[0,51],"range":[34.7,689]}},"y":{"field":"y2","type":"quantitative","axis":null,"scale":{"domain":[-114,56],"range":[0,170]}},"y2":{"field":"d"}}}
]},
{"data":{"values":[{"group":"GHP/C","left":-0.44,"right":5.4,"middle":2.3},{"group":"GHP/B","left":5.7,"right":27.4,"middle":15.7},{"group":"GHP/A","left":27.65,"right":51.5,"middle":40.1}]},
"layer":[
{"mark":{"type":"rect","fillOpacity":0,"strokeWidth":2},"encoding":{"x":{"field":"left","type":"quantitative","axis":null,"scale":{"domain":[0,51],"range":[34.7,689]}},"x2":{"field":"right"},"y":{"datum":-110,"type":"quantitative","axis":null,"scale":{"domain":[-114,56],"range":[0,170]}},"y2":{"datum":0},"stroke":{"field":"group","type":"nominal","legend":null,"scale":{"domain":["GHP/C","GHP/B","GHP/A"],"range":["#1fa860","#ed1c24","#fbbf24"]}}}},
{"mark":{"type":"text","fontSize":16,"baseline":"middle","fill":"#111"},"encoding":{"x":{"field":"middle","type":"quantitative","axis":null,"scale":{"domain":[0,51],"range":[34.7,689]}},"y":{"datum":-97,"type":"quantitative","axis":null,"scale":{"domain":[-114,56],"range":[0,170]}},"text":{"field":"group"}}}
]},
{"data":{"values":[
{"i":0,"name":"B. asteroides","host":"Insect"},{"i":1,"name":"B. bohemicum","host":"Insect"},{"i":2,"name":"B. bombi","host":"Insect"},{"i":3,"name":"B. actinocoloniiforme","host":"Insect"},{"i":4,"name":"B. coryneforme","host":"Insect"},{"i":5,"name":"B. indicum","host":"Insect"},{"i":6,"name":"B. bifidum","host":"Human Infant"},{"i":7,"name":"B. longum subsp. infantis","host":"Human Infant"},{"i":8,"name":"Scardovia inopinata","host":"Human Adult"},{"i":9,"name":"Alloscardovia criceti","host":"Other Rodents"},{"i":10,"name":"B. mongoliense","host":"Others"},{"i":11,"name":"B. breve","host":"Human Infant"},{"i":12,"name":"B. choerinum","host":"Swine"},{"i":13,"name":"B. cuniculi","host":"Rabbit"},{"i":14,"name":"B. crudilactis","host":"Others"},{"i":15,"name":"B. stellenboschense","host":"Primate"},{"i":16,"name":"Parascardovia denticolens","host":"Human Adult"},{"i":17,"name":"Scardovia wiggsiae","host":"Human Adult"},{"i":18,"name":"B. ruminantium","host":"Ruminants"},{"i":19,"name":"B. subtile","host":"Others"},{"i":20,"name":"Gardnerella vaginalis","host":"Human Adult"},{"i":21,"name":"B. gallicum","host":"Human Adult"},{"i":22,"name":"B. pseudolongum subsp. globosum","host":"Ruminants"},{"i":23,"name":"B. minimum","host":"Others"},{"i":24,"name":"B. boum","host":"Ruminants"},{"i":25,"name":"B. thermophilum","host":"Swine"},{"i":26,"name":"B. thermacidophilum subsp. porcinum","host":"Swine"},{"i":27,"name":"B. thermacidophilum subsp. thermacidophilum","host":"Others"},{"i":28,"name":"B. animalis subsp. animalis","host":"Other Rodents"},{"i":29,"name":"B. animalis subsp. lactis","host":"Others"},{"i":30,"name":"B. adolescentis","host":"Human Adult"},{"i":31,"name":"B. angulatum","host":"Human Adult"},{"i":32,"name":"B. moukalabense","host":"Primate"},{"i":33,"name":"B. merycicum","host":"Ruminants"},{"i":34,"name":"B. pseudolongum subsp. pseudolongum","host":"Swine"},{"i":35,"name":"B. magnum","host":"Rabbit"},{"i":36,"name":"B. biavatii","host":"Primate"},{"i":37,"name":"B. callitrichos","host":"Primate"},{"i":38,"name":"B. longum subsp. suis","host":"Swine"},{"i":39,"name":"B. pseudocatenulatum","host":"Human Infant"},{"i":40,"name":"B. gallinarum","host":"Bird"},{"i":41,"name":"B. kashiwanohense","host":"Human Infant"},{"i":42,"name":"B. catenulatum","host":"Human Adult"},{"i":43,"name":"B. dentium","host":"Human Adult"},{"i":44,"name":"B. tsurumiense","host":"Other Rodents"},{"i":45,"name":"B. pullorum","host":"Bird"},{"i":46,"name":"B. saeculare","host":"Rabbit"},{"i":47,"name":"B. saguini","host":"Primate"},{"i":48,"name":"B. reuteri","host":"Primate"},{"i":49,"name":"B. psychraerophilum","host":"Swine"},{"i":50,"name":"B. scardovii","host":"Human Adult"},{"i":51,"name":"B. longum subsp. longum","host":"Human Adult"}
]},
"layer":[
{"mark":{"type":"point","shape":"circle","filled":true,"opacity":1,"size":30,"strokeWidth":0.8},"encoding":{"x":{"field":"i","type":"quantitative","axis":null,"scale":{"domain":[0,51],"range":[34.7,689]}},"y":{"datum":0,"type":"quantitative","axis":null,"scale":{"domain":[-114,56],"range":[0,170]}},
"stroke":{"condition":{"test":"indexof(datum.name,'B.')!==0","value":"#e31a1c"},"value":"transparent"},
"color":{"field":"host","type":"nominal","scale":{"domain":["Human Adult","Human Infant","Insect","Primate","Bird","Ruminants","Swine","Rabbit","Other Rodents","Others"],"range":["#1f3864","#00b0f0","#ff4500","#9b3fd4","#c8691e","#00a651","#f5b09a","#a5d84a","#ffb300","#bfbfbf"]},"legend":{"orient":"none","legendX":279,"legendY":154,"title":null,"columns":5,"gridAlign":"all","symbolSize":36,"symbolType":"circle","labelFontSize":5.5,"labelColor":"#333","labelOffset":4,"columnPadding":20,"rowPadding":4,"clipHeight":6}}}},
{"mark":{"type":"text","angle":-90,"fontStyle":"italic","fontSize":5.5,"align":"left","baseline":"middle","fill":"#222"},"encoding":{"x":{"field":"i","type":"quantitative","axis":null,"scale":{"domain":[0,51],"range":[34.7,689]}},"y":{"datum":-4,"type":"quantitative","axis":null,"scale":{"domain":[-114,56],"range":[0,170]}},"text":{"field":"name"}}}
]},
{"data":{"values":[{"at":44.2,"row":47}]},"mark":{"type":"point","shape":"circle","filled":false,"fill":"transparent","size":40,"stroke":"#e31a1c","strokeWidth":1,"opacity":1},"encoding":{"x":{"field":"at","type":"quantitative","axis":null,"scale":{"domain":[0,51],"range":[34.7,689]}},"y":{"field":"row","type":"quantitative","axis":null,"scale":{"domain":[-114,56],"range":[0,170]}}}},
{"data":{"values":[{"t":"Other","at":44.65,"row":44,"s":"normal"},{"t":"Bifidobacteriaceae","at":45.75,"row":44,"s":"italic"},{"t":"members","at":44.65,"row":50.5,"s":"normal"}]},
"layer":[
{"transform":[{"filter":"datum.s==='normal'"}],"mark":{"type":"text","align":"left","baseline":"middle","fontSize":5.5,"fill":"#333"},"encoding":{"x":{"field":"at","type":"quantitative","axis":null,"scale":{"domain":[0,51],"range":[34.7,689]}},"y":{"field":"row","type":"quantitative","axis":null,"scale":{"domain":[-114,56],"range":[0,170]}},"text":{"field":"t"}}},
{"transform":[{"filter":"datum.s==='italic'"}],"mark":{"type":"text","align":"left","baseline":"middle","fontSize":5.5,"fontStyle":"italic","fill":"#333"},"encoding":{"x":{"field":"at","type":"quantitative","axis":null,"scale":{"domain":[0,51],"range":[34.7,689]}},"y":{"field":"row","type":"quantitative","axis":null,"scale":{"domain":[-114,56],"range":[0,170]}},"text":{"field":"t"}}}
]}
]}
]}
